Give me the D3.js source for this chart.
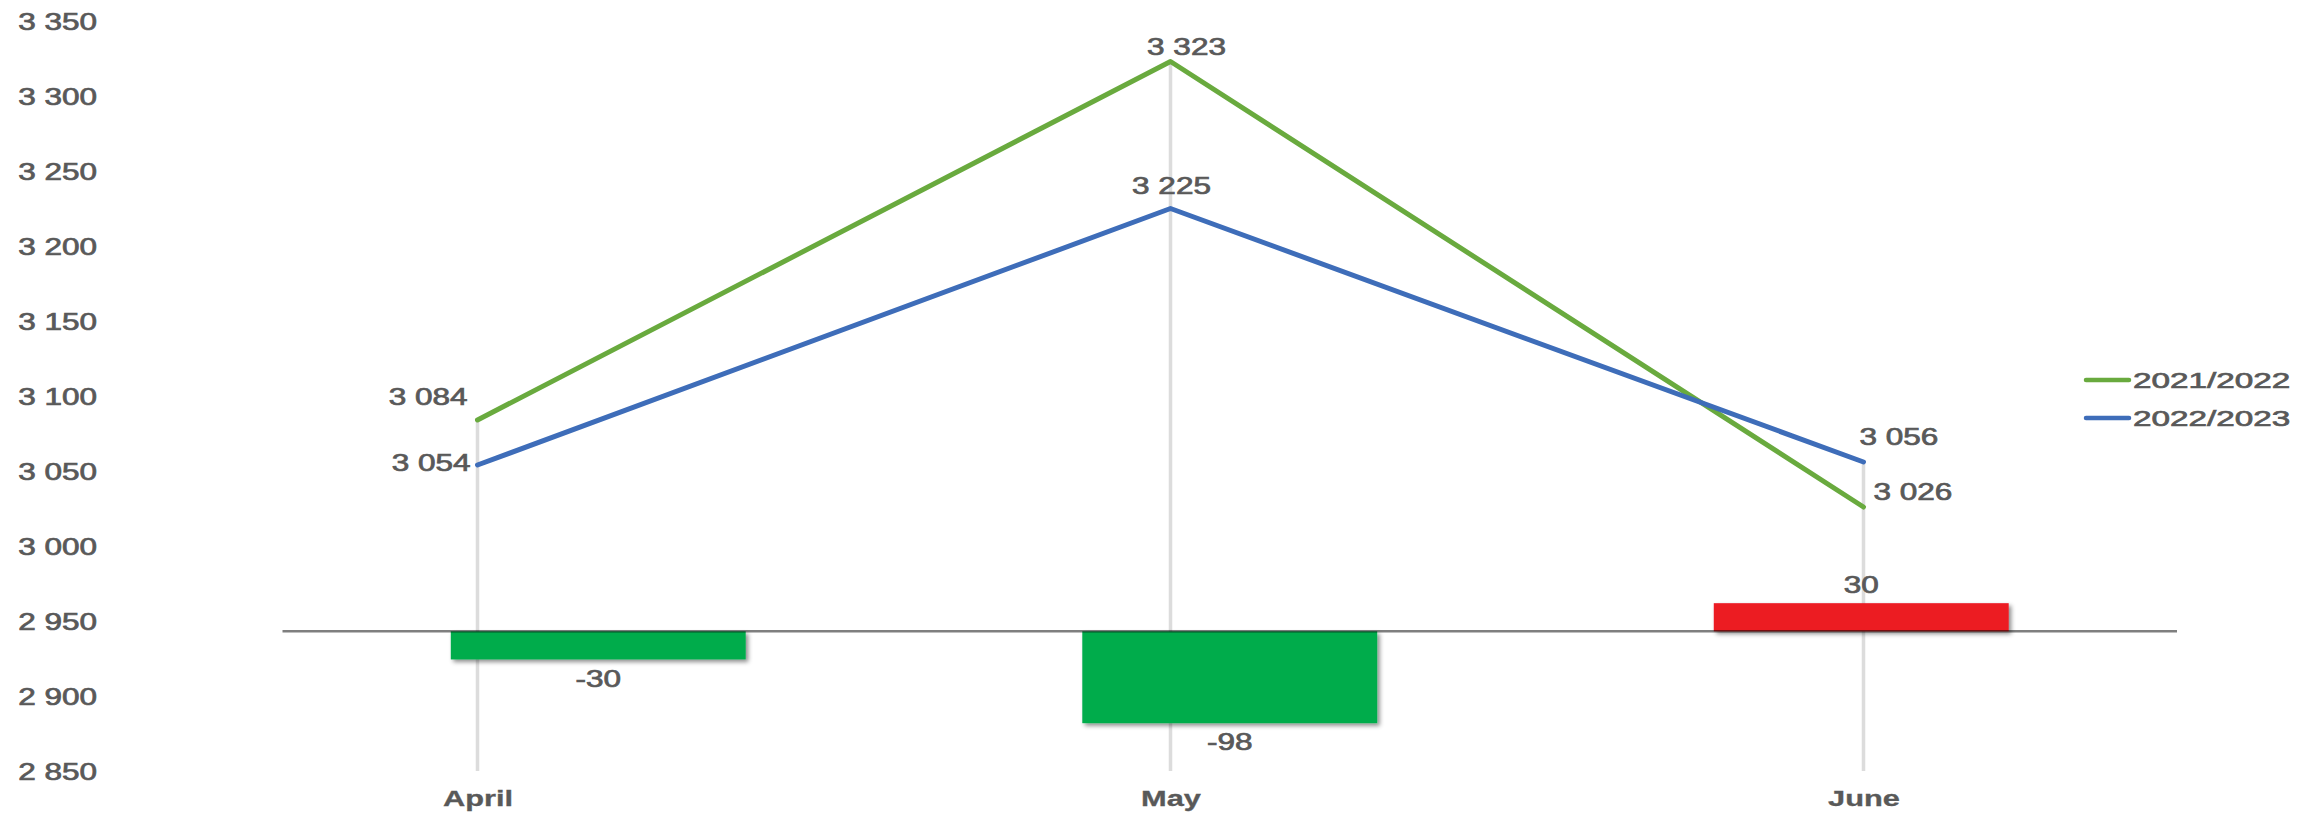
<!DOCTYPE html>
<html>
<head>
<meta charset="utf-8">
<script src="https://cdn.jsdelivr.net/npm/d3@7"></script>
<style>
  html, body { margin: 0; padding: 0; background: #ffffff; }
  svg { display: block; }
</style>
</head>
<body>
<svg id="chart" width="2315" height="815"></svg>
<script>
// ---------------- data ----------------
const months = ["April", "May", "June"];
const series2122 = [3084, 3323, 3026];
const series2223 = [3054, 3225, 3056];
const diffs = [-30, -98, 30];
const seriesNames = ["2021/2022", "2022/2023"];
const yTickValues = [2850, 2900, 2950, 3000, 3050, 3100, 3150, 3200, 3250, 3300, 3350];

// ---------------- styles ----------------
const W = 2315, H = 815;
const greenLine = "#69aa3e", blueLine = "#3e6db9";
const barNeg = "#00ac4c", barPos = "#ec1c24";
const textColor = "#595959";
const font = "'Liberation Sans', Arial, sans-serif";
const SX = 1.37; // horizontal stretch of the original picture
const numSize = 23;
const textStroke = 0.7;

// per-label offsets (dx, dy of text centre relative to the point) and anchors
const off2122 = [{dx: -10, dy: -23, a: "end"}, {dx: 16, dy: -15, a: "middle"}, {dx: 10, dy: -15, a: "start"}];
const off2223 = [{dx: -7, dy: -2, a: "end"}, {dx: 1, dy: -23, a: "middle"}, {dx: -4, dy: -25, a: "start"}];

const fmtLocale = d3.formatLocale({decimal: ",", thousands: " ", grouping: [3], currency: ["", ""], minus: "-"});
const fmt = fmtLocale.format(",d");

const svg = d3.select("#chart");

// ---------------- scales ----------------
const y = d3.scaleLinear().domain([2850, 3350]).range([771, 21]);
const x = d3.scalePoint().domain(months).range([477.5, 1863.5]);
// secondary axes for the difference bars
const x2 = d3.scaleBand().domain(months).range([282.5, 2177]).padding(0);
const y2 = d3.scaleLinear().domain([-149, 651]).range([771, 21]);
const barFrac = 0.467;

// shadow filter
const defs = svg.append("defs");
const f = defs.append("filter").attr("id", "shadow").attr("x", "-10%").attr("y", "-30%").attr("width", "120%").attr("height", "160%");
f.append("feDropShadow").attr("dx", 2.5).attr("dy", 2.5).attr("stdDeviation", 2.2)
  .attr("flood-color", "#000").attr("flood-opacity", 0.45);

function stretchText(sel, sx) {
  sel.each(function () {
    const t = d3.select(this);
    const cur = t.attr("transform") || "";
    t.attr("transform", cur + ` scale(${sx},1)`);
  });
}

function label(g, cx, cy, str, opts) {
  const size = opts.size || numSize;
  g.append("text")
    .attr("transform", `translate(${cx},${cy + 0.358 * size}) scale(${opts.sx || SX},1)`)
    .attr("text-anchor", opts.anchor || "middle")
    .attr("font-family", font)
    .attr("font-size", size)
    .attr("font-weight", opts.weight || "normal")
    .attr("fill", textColor)
    .attr("stroke", textColor).attr("stroke-width", textStroke)
    .text(str);
}

// ---------------- drop lines ----------------
const gDrop = svg.append("g");
gDrop.selectAll("line").data(months).join("line")
  .attr("x1", d => x(d)).attr("x2", d => x(d))
  .attr("y1", (d, i) => y(Math.max(series2122[i], series2223[i])))
  .attr("y2", y(2850))
  .attr("stroke", "#dcdcdc").attr("stroke-width", 3.5);

// ---------------- bars ----------------
const gBars = svg.append("g");
gBars.selectAll("rect").data(months).join("rect")
  .attr("x", d => x2(d) + x2.bandwidth() * (1 - barFrac) / 2)
  .attr("width", x2.bandwidth() * barFrac)
  .attr("y", (d, i) => Math.min(y2(0), y2(diffs[i])))
  .attr("height", (d, i) => Math.abs(y2(diffs[i]) - y2(0)))
  .attr("fill", (d, i) => diffs[i] < 0 ? barNeg : barPos)
  .attr("filter", "url(#shadow)");

// secondary category axis line (zero line)
svg.append("line")
  .attr("x1", x2.range()[0]).attr("x2", x2.range()[1])
  .attr("y1", y2(0)).attr("y2", y2(0))
  .attr("stroke", "#000").attr("stroke-opacity", 0.5).attr("stroke-width", 2.5);

// ---------------- lines ----------------
const line = d3.line().x((d, i) => x(months[i])).y(d => y(d));
svg.append("path").datum(series2122).attr("d", line)
  .attr("fill", "none").attr("stroke", greenLine).attr("stroke-width", 5)
  .attr("stroke-linejoin", "round").attr("stroke-linecap", "round");
svg.append("path").datum(series2223).attr("d", line)
  .attr("fill", "none").attr("stroke", blueLine).attr("stroke-width", 5)
  .attr("stroke-linejoin", "round").attr("stroke-linecap", "round");

// ---------------- axes ----------------
const yAxis = d3.axisLeft(y).tickValues(yTickValues).tickSize(0).tickPadding(0).tickFormat(fmt);
const gy = svg.append("g").attr("transform", "translate(97,0)").call(yAxis);
gy.select(".domain").remove();
gy.selectAll("text")
  .attr("font-family", font).attr("font-size", numSize).attr("fill", textColor)
  .attr("stroke", textColor).attr("stroke-width", textStroke)
  .attr("x", 0).attr("dy", "0.36em");
stretchText(gy.selectAll("text"), SX);

const xAxis = d3.axisBottom(x).tickSize(0).tickPadding(0);
const gx = svg.append("g").attr("transform", "translate(0,790)").call(xAxis);
gx.select(".domain").remove();
gx.selectAll("text")
  .attr("font-family", font).attr("font-size", 22).attr("font-weight", "bold").attr("fill", textColor)
  .attr("stroke", textColor).attr("stroke-width", 0.3)
  .attr("y", 0).attr("dy", "0.71em");
stretchText(gx.selectAll("text"), 1.4);

// ---------------- data labels ----------------
const gLab = svg.append("g");
months.forEach((m, i) => {
  const o1 = off2122[i];
  label(gLab, x(m) + o1.dx, y(series2122[i]) + o1.dy, fmt(series2122[i]), {anchor: o1.a});
  const o2 = off2223[i];
  label(gLab, x(m) + o2.dx, y(series2223[i]) + o2.dy, fmt(series2223[i]), {anchor: o2.a});
  const bx = x2(m) + x2.bandwidth() / 2;
  const by = diffs[i] < 0 ? y2(diffs[i]) + 19 : y2(diffs[i]) - 18;
  label(gLab, bx, by, fmt(diffs[i]), {anchor: "middle"});
});

// ---------------- legend ----------------
const legendColors = [greenLine, blueLine];
const gLeg = svg.append("g");
seriesNames.forEach((name, i) => {
  const ly = 380 + i * 38;
  gLeg.append("line").attr("x1", 2086).attr("x2", 2129).attr("y1", ly).attr("y2", ly)
    .attr("stroke", legendColors[i]).attr("stroke-width", 4.5).attr("stroke-linecap", "round");
  label(gLeg, 2133, ly, name, {anchor: "start", size: 22.5, sx: 1.48});
});
</script>
</body>
</html>
